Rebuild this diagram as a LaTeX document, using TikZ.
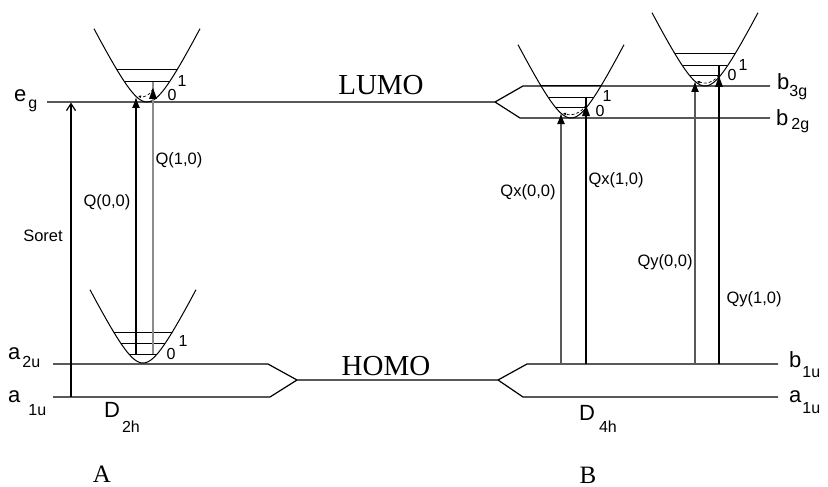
\documentclass[tikz,border=0pt]{standalone}
\usepackage{fontspec}
\setmainfont{Liberation Sans}
\newfontfamily\serifface{Liberation Serif}
\usetikzlibrary{arrows.meta}
\newcommand\labsize{\fontsize{22}{22}\selectfont}
\newcommand\subsize{\fontsize{16}{16}\selectfont}
\newcommand\symlab[4]{{\labsize #1}\kern#2pt\raisebox{-#3pt}{\subsize #4}}
\newcommand\parab[2]{%
  \draw[curve] plot[domain=-53:53,samples=61,smooth] ({#1+\x},{#2-2*(sqrt(\x*\x+400)-20)});}
\newcommand\levels[3]{% cx yv list of h/w
  \foreach \h/\w in {#3} {\draw[curve] ({#1-\w},{#2-\h}) -- ({#1+\w},{#2-\h});}}
\newcommand\headup[1]{\fill[black] (#1) -- ++(-4,11) -- ++(8,0) -- cycle;}
\begin{document}
\begin{tikzpicture}[x=1pt,y=-1pt,
  lvl/.style={line width=1.2pt,line join=round},
  curve/.style={line width=1pt},
  txt/.style={inner sep=0pt,font=\fontsize{16.5}{16.5}\selectfont},
  digit/.style={inner sep=0pt,font=\fontsize{16}{16}\selectfont},
  sym/.style={inner sep=0pt,anchor=base west},
  big/.style={inner sep=0pt,anchor=base,font=\serifface\fontsize{29}{29}\selectfont},
  panel/.style={inner sep=0pt,anchor=base,font=\serifface\fontsize{25}{25}\selectfont},
  qdark/.style={line width=1.2pt,draw=black},
  qgray/.style={line width=2pt,draw=black!45},
  qmid/.style={line width=1.5pt,draw=black!65},
  tip/.style={-{Latex[length=11pt,width=8pt,color=black]}},
  relax/.style={densely dashed,line width=0.7pt,-{Latex[length=3pt,width=3pt]}}
]
\useasboundingbox (0,0) rectangle (828,487);

% ---- level lines ----
\coordinate (egL) at (47,102);
\coordinate (lumoS) at (495,102);
\coordinate (b3gA) at (523,86);  \coordinate (b3gE) at (770,86);
\coordinate (b2gA) at (520,118); \coordinate (b2gE) at (770,118);
\coordinate (a2uL) at (53,364);  \coordinate (a2uK) at (268,364);
\coordinate (a1uL) at (53,397);  \coordinate (a1uK) at (270,397);
\coordinate (homoL) at (297,380); \coordinate (homoR) at (498,380);
\coordinate (b1uK) at (527,364); \coordinate (b1uE) at (778,364);
\coordinate (a1uRK) at (523,397); \coordinate (a1uRE) at (778,397);

\draw[lvl] (egL) -- (lumoS) -- (b3gA) -- (b3gE);
\draw[lvl] (lumoS) -- (b2gA) -- (b2gE);
\draw[lvl] (a2uL) -- (a2uK) -- (homoL) -- (homoR) -- (b1uK) -- (b1uE);
\draw[lvl] (a1uL) -- (a1uK) -- (homoL);
\draw[lvl] (homoR) -- (a1uRK) -- (a1uRE);

% ---- Soret ----
\coordinate (soretB) at (71,397);
\coordinate (soretT) at (71,102.5);
\draw[lvl,-{Straight Barb[length=7pt,width=9pt]}] (soretB) -- (soretT);
\node[txt] (soret) at (43,236) {Soret};

% ---- potential wells ----
\parab{147}{102}
\levels{147}{102}{32/29.9,20/22.4}
\parab{143}{363}
\levels{143}{363}{9/14.2,20/22.4,31/29.4}
\parab{571}{118}
\levels{571}{118}{10/15,20/22.4,32/29.9}
\parab{705}{86}
\levels{705}{86}{10/15,20/22.4,32/29.9}

% ---- vibrational labels ----
\node[digit] (l0a) at (172,95) {0};  \node[digit] (l1a) at (182,81) {1};
\node[digit] (l0b) at (171,354) {0}; \node[digit] (l1b) at (183,341) {1};
\node[digit] (l0c) at (600,111) {0}; \node[digit] (l1c) at (607,96) {1};
\node[digit] (l0d) at (732,75) {0};  \node[digit] (l1d) at (743,65) {1};

% ---- transitions D2h ----
\coordinate (q00b) at (136,354); \coordinate (q00t) at (136,97);
\coordinate (q10b) at (153,354); \coordinate (q10t) at (153,82); \coordinate (q10h) at (153,88);
\draw[qgray] (q10b) -- (q10t);
\headup{q10h}
\draw[qdark,tip] (q00b) -- (q00t);
\draw[relax] (153,89) to[bend left=40] (138,96);
\node[txt] (lq00) at (107,202) {Q(0,0)};
\node[txt] (lq10) at (179,160) {Q(1,0)};

% ---- transitions D4h ----
\coordinate (qx00b) at (561,364); \coordinate (qx00t) at (561,113);
\coordinate (qx10b) at (586,364); \coordinate (qx10t) at (586,98); \coordinate (qx10h) at (586,105);
\coordinate (qy00b) at (695,364); \coordinate (qy00t) at (695,81);
\coordinate (qy10b) at (719,364); \coordinate (qy10t) at (719,66); \coordinate (qy10h) at (719,76);
\draw[qmid,tip] (qx00b) -- (qx00t);
\draw[qdark] (qx10b) -- (qx10t);
\headup{qx10h}
\draw[qmid,tip] (qy00b) -- (qy00t);
\draw[qdark] (qy10b) -- (qy10t);
\headup{qy10h}
\draw[relax] (586,105) to[bend left=40] (563,113);
\draw[relax] (719,75) to[bend left=40] (697,81);
\node[txt] (lqx00) at (528,192) {Qx(0,0)};
\node[txt] (lqx10) at (616,180) {Qx(1,0)};
\node[txt] (lqy00) at (665,262) {Qy(0,0)};
\node[txt] (lqy10) at (754,299) {Qy(1,0)};

% ---- symmetry labels ----
\node[sym] (eg)   at (14,102)  {\symlab{e}{2}{6}{g}};
\node[sym] (a2u)  at (8,359)   {\symlab{a}{2}{8}{2u}};
\node[sym] (a1u)  at (8,402)   {\symlab{a}{8}{13}{1u}};
\node[sym] (d2h)  at (104,417) {\symlab{D}{2}{15}{2h}};
\node[sym] (b3g)  at (777,90)  {\symlab{b}{0}{6}{3g}};
\node[sym] (b2g)  at (776,125) {\symlab{b}{3}{4}{2g}};
\node[sym] (b1u)  at (789,367) {\symlab{b}{1}{10}{1u}};
\node[sym] (a1uR) at (789,402) {\symlab{a}{1}{11}{1u}};
\node[sym] (d4h)  at (579,420) {\symlab{D}{4}{12}{4h}};

% ---- orbital / panel labels ----
\node[big] (lumo) at (381,95) {LUMO};
\node[big] (homo) at (386,375) {HOMO};
\node[panel] (pA) at (102,482) {A};
\node[panel] (pB) at (588,483) {B};
\end{tikzpicture}
\end{document}
